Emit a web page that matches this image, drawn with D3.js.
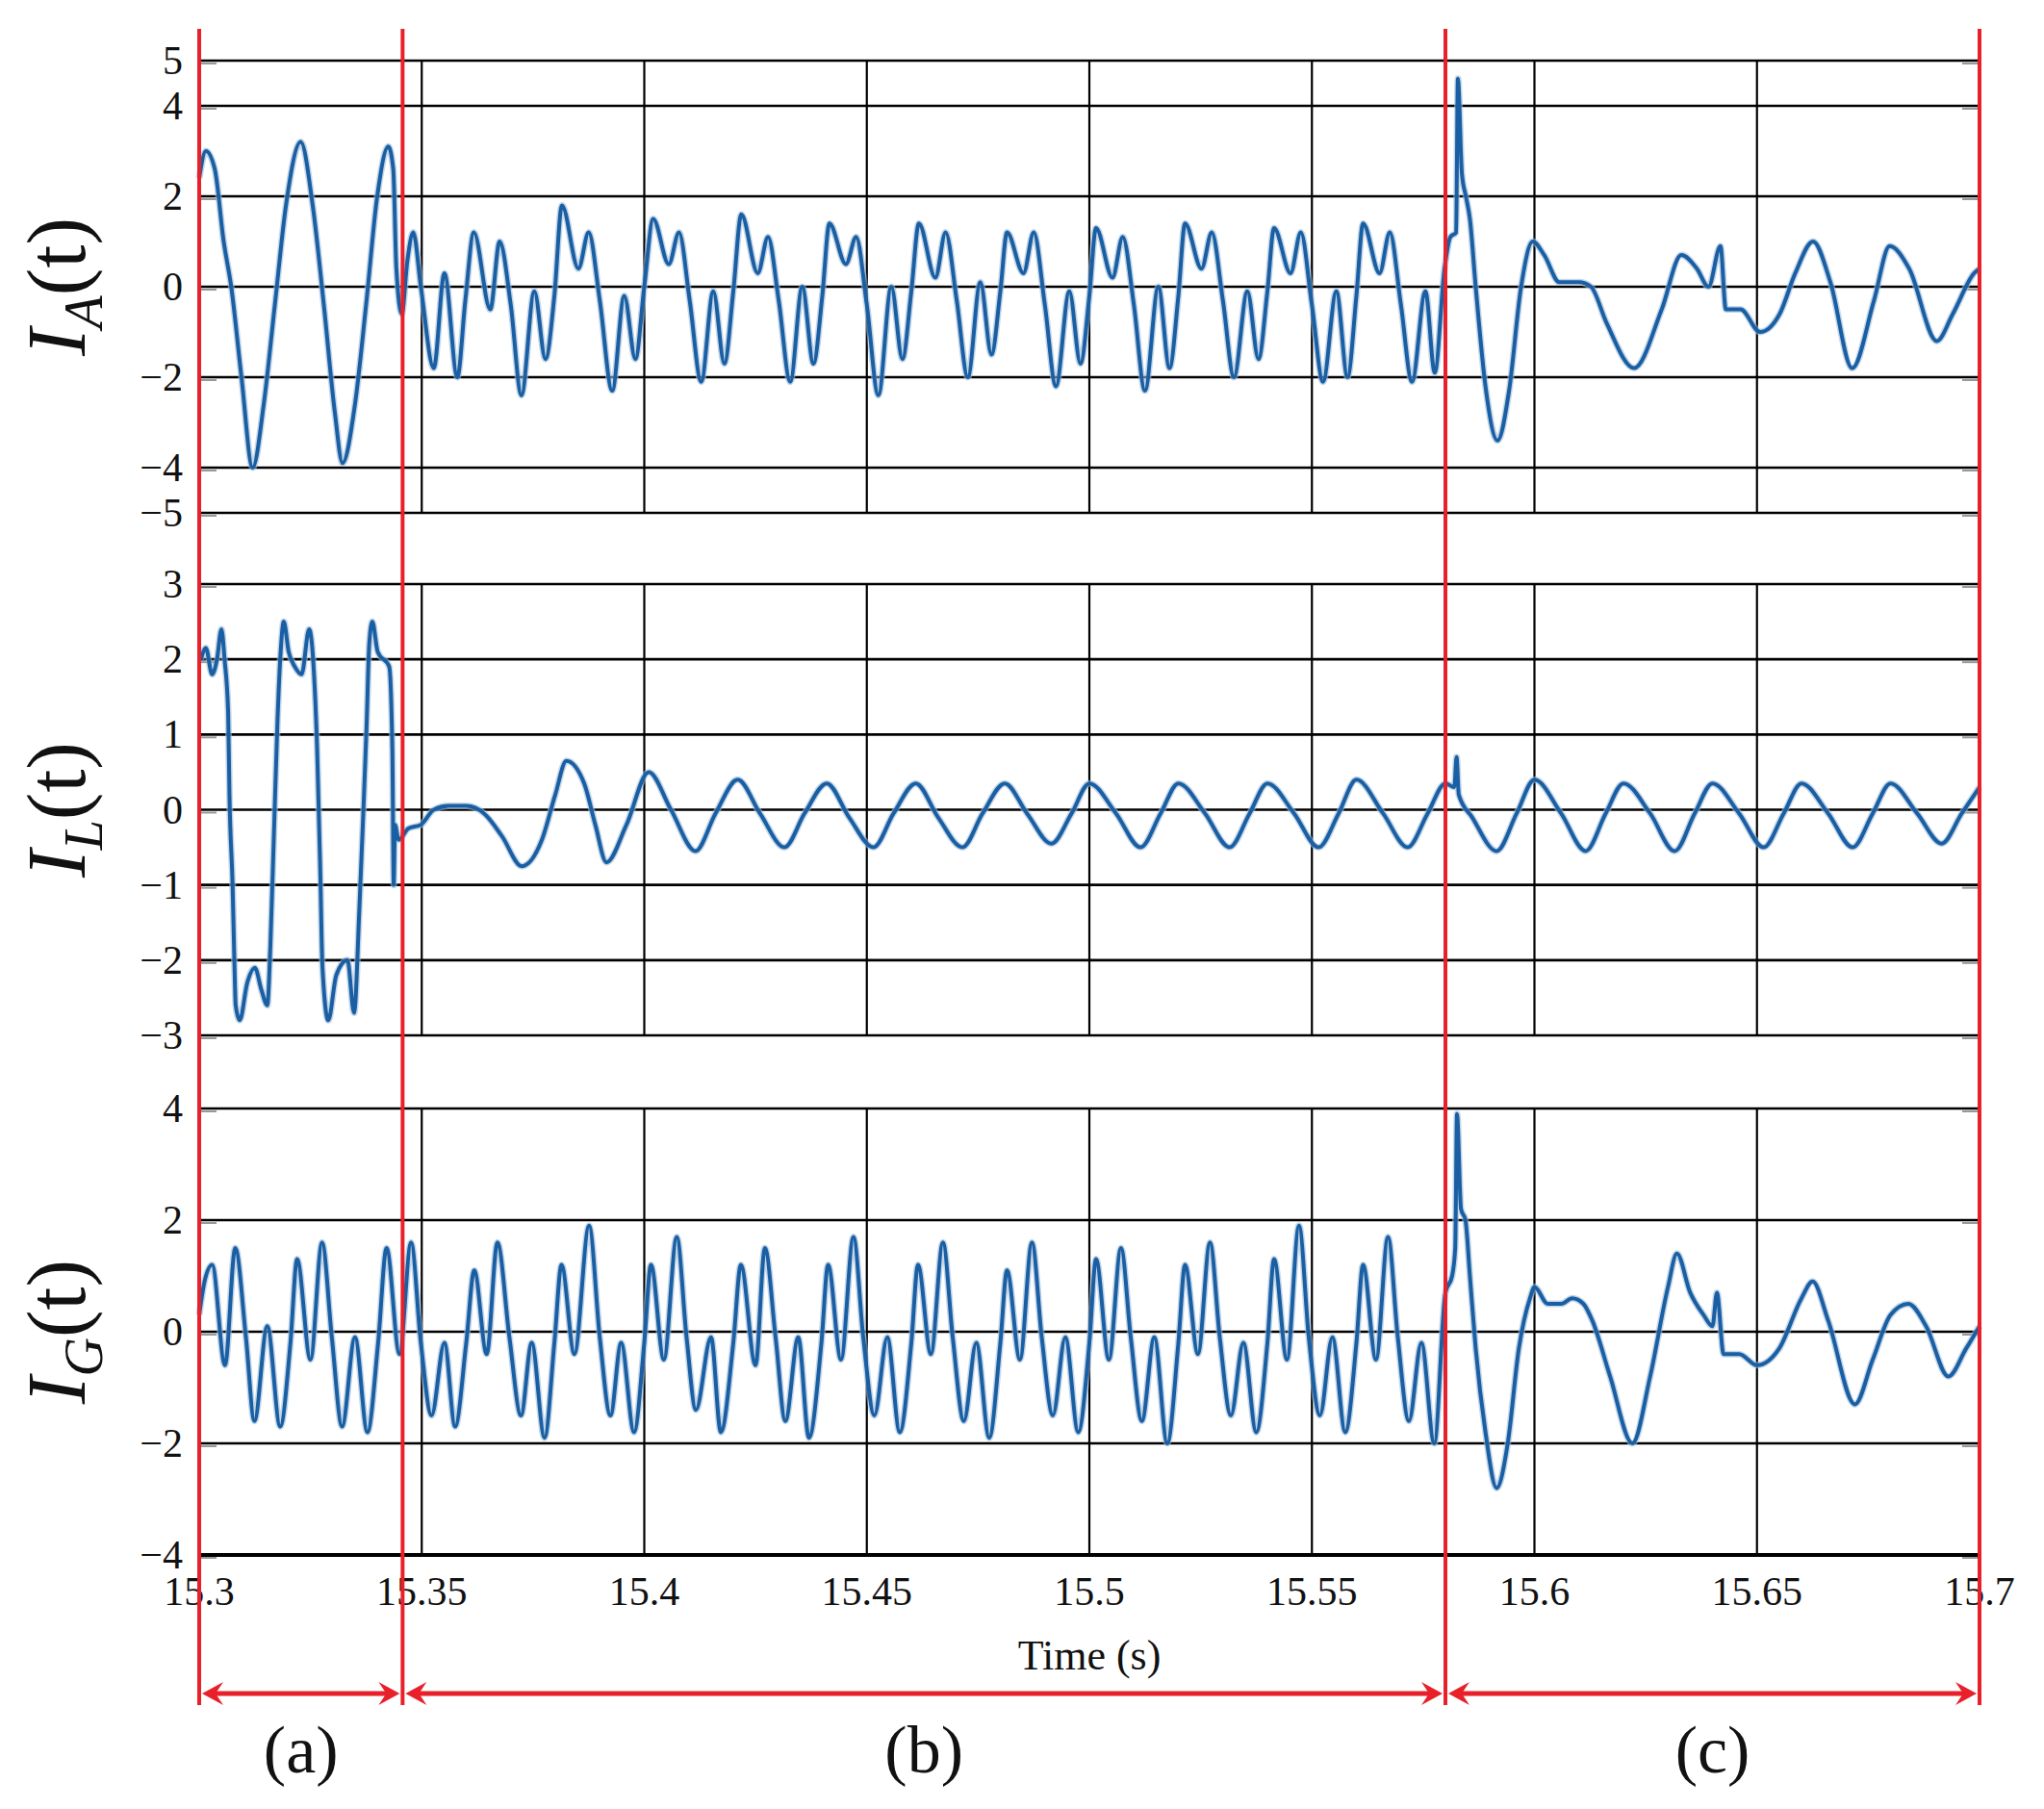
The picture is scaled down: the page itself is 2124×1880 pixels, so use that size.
<!DOCTYPE html>
<html><head><meta charset="utf-8">
<script src="https://cdn.jsdelivr.net/npm/d3@7"></script>
<style>body{margin:0;background:#fff}svg{display:block}text{font-family:"Liberation Serif","DejaVu Serif",serif;fill:#111}</style>
</head><body><svg id="c" width="2124" height="1880"></svg>
<script>
const xTicks=[15.3,15.35,15.4,15.45,15.5,15.55,15.6,15.65,15.7];
const xTickLabels=["15.3","15.35","15.4","15.45","15.5","15.55","15.6","15.65","15.7"];
const ticksA=[-5,-4,-2,0,2,4,5];
const ticksL=[-3,-2,-1,0,1,2,3];
const ticksG=[-4,-2,0,2,4];
const regionBounds=[15.3,15.3457,15.58,15.7];
const regionLabels=["(a)","(b)","(c)"];
const seriesNames=["A","L","G"];

const IA=[[15.3000,2.4],[15.3015,3.0],[15.3035,2.6],[15.3055,1.0],[15.3072,0.0],[15.3095,-2.0],[15.3120,-4.0],[15.3145,-2.6],[15.3170,-0.4],[15.3195,1.8],[15.3228,3.2],[15.3255,1.8],[15.3280,-0.4],[15.3305,-2.8],[15.3322,-3.9],[15.3350,-2.6],[15.3375,-0.4],[15.3400,2.0],[15.3425,3.1],[15.3436,2.6],[15.3443,0.4],[15.3455,-0.6],[15.3468,0.6],[15.3481,1.2],[15.3498,0.0],[15.3527,-1.8],[15.3551,0.3],[15.3580,-2.0],[15.3598,-0.3],
[15.3617,1.2],[15.3654,-0.5],[15.3675,1.0],[15.3700,-0.4],[15.3724,-2.4],[15.3753,-0.1],[15.3778,-1.6],[15.3798,-0.2],
[15.3815,1.8],[15.3852,0.4],[15.3875,1.2],[15.3900,-0.3],[15.3928,-2.3],[15.3955,-0.2],[15.3980,-1.6],[15.4000,0.0],
[15.4020,1.5],[15.4055,0.5],[15.4078,1.2],[15.4102,-0.3],[15.4128,-2.1],[15.4155,-0.1],[15.4180,-1.7],[15.4200,-0.1],
[15.4218,1.6],[15.4255,0.3],[15.4278,1.1],[15.4302,-0.3],[15.4328,-2.1],[15.4355,0.0],[15.4380,-1.7],[15.4400,-0.2],
[15.4416,1.4],[15.4453,0.5],[15.4476,1.1],[15.4500,-0.4],[15.4526,-2.4],[15.4555,0.0],[15.4580,-1.6],[15.4600,-0.1],
[15.4617,1.4],[15.4654,0.2],[15.4677,1.2],[15.4702,-0.3],[15.4727,-2.0],[15.4755,0.1],[15.4780,-1.5],[15.4800,-0.1],
[15.4815,1.2],[15.4852,0.3],[15.4875,1.2],[15.4900,-0.4],[15.4925,-2.2],[15.4955,-0.1],[15.4980,-1.7],[15.5000,-0.2],
[15.5015,1.3],[15.5052,0.2],[15.5075,1.1],[15.5100,-0.4],[15.5125,-2.3],[15.5155,0.0],[15.5180,-1.8],[15.5200,-0.2],
[15.5215,1.4],[15.5252,0.4],[15.5275,1.2],[15.5300,-0.3],[15.5325,-2.0],[15.5355,-0.1],[15.5380,-1.6],[15.5400,-0.1],
[15.5415,1.3],[15.5452,0.3],[15.5475,1.2],[15.5500,-0.4],[15.5525,-2.1],[15.5555,-0.1],[15.5580,-2.0],[15.5600,-0.2],
[15.5615,1.4],[15.5652,0.3],[15.5675,1.2],[15.5700,-0.4],[15.5725,-2.1],[15.5755,-0.1],[15.5776,-1.9],[15.5798,0.4],
[15.5811,1.1],[15.5824,1.2],[15.5828,4.6],[15.5837,2.5],[15.5846,2.0],[15.5855,1.5],[15.5868,0.0],[15.5890,-2.2],[15.5917,-3.4],[15.5943,-2.3],[15.5970,0.0],[15.5996,1.0],[15.6022,0.7],[15.6056,0.1],[15.6100,0.1],[15.6127,0.0],[15.6162,-0.8],[15.6224,-1.8],[15.6286,-0.5],[15.6330,0.7],[15.6365,0.4],[15.6391,0.0],[15.6418,0.9],[15.6430,-0.5],[15.6463,-0.5],[15.6507,-1.0],[15.6551,-0.6],[15.6586,0.3],[15.6626,1.0],[15.6665,0.1],[15.6714,-1.8],[15.6763,-0.3],[15.6798,0.9],[15.6842,0.4],[15.6904,-1.2],[15.6940,-0.6],[15.6988,0.3],[15.7000,0.4]];

const IL=[[15.3004,2.0],[15.3015,2.15],[15.3029,1.8],[15.3040,2.0],[15.3050,2.4],[15.3057,2.0],[15.3065,1.3],[15.3068,0.2],[15.3075,-1.0],[15.3079,-2.0],[15.3082,-2.6],[15.3091,-2.8],[15.3108,-2.3],[15.3125,-2.1],[15.3140,-2.4],[15.3153,-2.6],[15.3160,-1.8],[15.3168,-0.3],[15.3176,1.2],[15.3183,2.1],[15.3190,2.5],[15.3201,2.1],[15.3215,1.9],[15.3230,1.8],[15.3247,2.4],[15.3258,1.8],[15.3265,0.8],[15.3272,-0.8],[15.3277,-2.1],[15.3290,-2.8],[15.3308,-2.2],[15.3333,-2.0],[15.3348,-2.7],[15.3360,-1.3],[15.3369,0.0],[15.3376,1.1],[15.3382,2.2],[15.3389,2.5],[15.3401,2.1],[15.3427,1.9],[15.3434,0.8],[15.3437,-1.0],[15.3440,-0.2],[15.3448,-0.4],
[15.3470,-0.25],[15.3498,-0.2],[15.3527,0.0],[15.3560,0.05],[15.3600,0.05],[15.3640,-0.05],[15.3680,-0.35],[15.3725,-0.75],[15.3770,-0.4],[15.3800,0.2],[15.3825,0.65],[15.3865,0.35],[15.3890,-0.2],[15.3915,-0.7],[15.3960,-0.2],[15.4010,0.5],[15.4060,0.0],[15.4115,-0.55],[15.4160,-0.05],[15.4210,0.4],[15.4260,-0.05],[15.4315,-0.5],[15.4360,-0.05],[15.4410,0.35],[15.4460,-0.1],[15.4515,-0.5],[15.4560,-0.05],[15.4610,0.35],[15.4660,-0.1],[15.4715,-0.5],[15.4760,-0.05],[15.4810,0.35],[15.4860,-0.05],[15.4915,-0.45],[15.4960,-0.05],[15.5000,0.35],[15.5060,-0.05],[15.5115,-0.5],[15.5160,-0.05],[15.5200,0.35],[15.5260,-0.05],[15.5315,-0.5],[15.5360,-0.05],[15.5400,0.35],[15.5460,-0.05],[15.5515,-0.5],[15.5560,-0.05],[15.5600,0.4],[15.5660,-0.05],[15.5715,-0.5],[15.5760,-0.05],[15.5800,0.35],[15.5820,0.3],[15.5825,0.7],[15.5830,0.2],[15.5860,-0.1],[15.5915,-0.55],[15.5960,-0.05],[15.6000,0.4],[15.6060,-0.05],[15.6115,-0.55],[15.6160,-0.05],[15.6200,0.35],[15.6260,-0.05],[15.6315,-0.55],[15.6360,-0.05],[15.6400,0.35],[15.6460,-0.05],[15.6515,-0.5],[15.6560,-0.05],[15.6600,0.35],[15.6660,-0.05],[15.6715,-0.5],[15.6760,-0.05],[15.6800,0.35],[15.6860,-0.05],[15.6915,-0.45],[15.6960,-0.05],[15.7000,0.3]];

const IG=[[15.3000,0.3],[15.3012,0.9],
[15.3029,1.2],[15.3058,-0.6],[15.3081,1.5],[15.3105,-0.1],[15.3124,-1.6],[15.3153,0.1],[15.3182,-1.7],[15.3205,-0.2],
[15.3220,1.3],[15.3250,-0.5],[15.3276,1.6],[15.3298,-0.1],[15.3321,-1.7],[15.3350,-0.1],[15.3378,-1.8],[15.3402,-0.2],
[15.3421,1.5],[15.3450,-0.4],[15.3476,1.6],[15.3498,-0.2],[15.3522,-1.5],[15.3551,-0.2],[15.3575,-1.7],[15.3600,-0.2],
[15.3618,1.1],[15.3646,-0.4],[15.3670,1.6],[15.3697,-0.1],[15.3723,-1.5],[15.3747,-0.2],[15.3776,-1.9],[15.3798,-0.2],
[15.3814,1.2],[15.3843,-0.4],[15.3876,1.9],[15.3900,-0.1],[15.3924,-1.5],[15.3948,-0.2],[15.3977,-1.8],[15.4000,-0.2],
[15.4015,1.2],[15.4044,-0.5],[15.4073,1.7],[15.4095,-0.1],[15.4116,-1.4],[15.4150,-0.1],[15.4172,-1.8],[15.4200,-0.2],
[15.4217,1.2],[15.4250,-0.6],[15.4271,1.5],[15.4295,-0.1],[15.4317,-1.6],[15.4346,-0.1],[15.4370,-1.9],[15.4398,-0.2],
[15.4413,1.2],[15.4442,-0.5],[15.4470,1.7],[15.4492,-0.1],[15.4517,-1.5],[15.4546,-0.1],[15.4574,-1.8],[15.4600,-0.2],
[15.4615,1.2],[15.4644,-0.4],[15.4671,1.6],[15.4693,-0.1],[15.4718,-1.6],[15.4746,-0.2],[15.4775,-1.9],[15.4800,-0.2],
[15.4815,1.1],[15.4844,-0.5],[15.4871,1.6],[15.4893,-0.1],[15.4918,-1.5],[15.4946,-0.1],[15.4975,-1.8],[15.5000,-0.2],
[15.5015,1.3],[15.5044,-0.5],[15.5071,1.5],[15.5093,-0.1],[15.5118,-1.6],[15.5146,-0.1],[15.5175,-2.0],[15.5200,-0.2],
[15.5215,1.2],[15.5244,-0.4],[15.5271,1.6],[15.5293,-0.1],[15.5318,-1.5],[15.5346,-0.2],[15.5375,-1.8],[15.5400,-0.2],
[15.5415,1.3],[15.5444,-0.5],[15.5471,1.9],[15.5493,-0.1],[15.5518,-1.5],[15.5546,-0.1],[15.5575,-1.8],[15.5600,-0.2],
[15.5615,1.2],[15.5644,-0.5],[15.5671,1.7],[15.5693,-0.1],[15.5718,-1.6],[15.5746,-0.2],[15.5775,-2.0],[15.5800,0.7],
[15.5815,1.0],[15.5822,1.5],[15.5826,3.9],[15.5835,2.2],[15.5845,2.0],[15.5855,1.0],[15.5868,-0.3],[15.5890,-1.8],[15.5915,-2.8],[15.5940,-2.0],[15.5965,-0.3],[15.5990,0.6],[15.6000,0.8],[15.6030,0.5],[15.6060,0.5],[15.6085,0.6],[15.6110,0.5],[15.6130,0.2],[15.6170,-0.8],[15.6220,-2.0],[15.6260,-0.8],[15.6300,0.8],[15.6320,1.4],[15.6350,0.7],[15.6380,0.3],[15.6400,0.1],[15.6410,0.7],[15.6425,-0.4],[15.6460,-0.4],[15.6500,-0.6],[15.6550,-0.3],[15.6600,0.6],[15.6625,0.9],[15.6660,0.2],[15.6720,-1.3],[15.6760,-0.5],[15.6800,0.3],[15.6840,0.5],[15.6880,0.1],[15.6930,-0.8],[15.6970,-0.3],[15.7000,0.1]];

const svg=d3.select("#c");
const x=d3.scaleLinear().domain([15.3,15.7]).range([207,2057]);
const panels=[
 {data:IA,dom:[-5,5],ticks:ticksA,top:63,bot:533,name:seriesNames[0]},
 {data:IL,dom:[-3,3],ticks:ticksL,top:607,bot:1076,name:seriesNames[1]},
 {data:IG,dom:[-4,4],ticks:ticksG,top:1152,bot:1616,name:seriesNames[2]}];
const blue="#1a5fa3";
panels.forEach((p,i)=>{
  const y=d3.scaleLinear().domain(p.dom).range([p.bot,p.top]);
  const g=svg.append("g");
  g.selectAll(".h").data(p.ticks).join("line").attr("x1",x(15.3)).attr("x2",x(15.7))
   .attr("y1",d=>y(d)).attr("y2",d=>y(d)).attr("stroke","#000").attr("stroke-width",2.6);
  g.selectAll(".v").data(xTicks).join("line").attr("x1",d=>x(d)).attr("x2",d=>x(d))
   .attr("y1",p.top).attr("y2",p.bot).attr("stroke","#000").attr("stroke-width",2.2);
  g.selectAll(".tl").data(p.ticks).join("line").attr("x1",x(15.3)).attr("x2",x(15.3)+18)
   .attr("y1",d=>y(d)+3).attr("y2",d=>y(d)+3).attr("stroke","#999").attr("stroke-width",2);
  g.selectAll(".tr").data(p.ticks).join("line").attr("x1",x(15.7)-18).attr("x2",x(15.7))
   .attr("y1",d=>y(d)+3).attr("y2",d=>y(d)+3).attr("stroke","#999").attr("stroke-width",2);
  g.selectAll(".lab").data(p.ticks).join("text").attr("x",190).attr("y",d=>y(d))
   .attr("text-anchor","end").attr("dominant-baseline","central").attr("font-size",42)
   .text(d=>d<0?"\u2212"+(-d):String(d));
  const line=d3.line().x(d=>x(d[0])).y(d=>y(d[1])).curve(d3.curveMonotoneX);
  g.append("path").datum(p.data).attr("d",line).attr("fill","none").attr("stroke","#9dbbd8")
   .attr("stroke-width",7).attr("stroke-linejoin","round").attr("opacity",0.6);
  g.append("path").datum(p.data).attr("d",line).attr("fill","none").attr("stroke",blue)
   .attr("stroke-width",4).attr("stroke-linejoin","round");
  const cy=(p.top+p.bot)/2;
  const t=svg.append("text").attr("transform",`translate(88,${cy}) rotate(-90)`)
   .attr("text-anchor","middle").attr("font-size",86);
  t.append("tspan").attr("font-style","italic").text("I");
  t.append("tspan").attr("font-style","italic").attr("font-size",56).attr("dy",18).text(p.name);
  t.append("tspan").attr("dy",-18).text("(t)");
});
svg.append("line").attr("x1",x(15.3)).attr("x2",x(15.7)).attr("y1",1616).attr("y2",1616).attr("stroke","#000").attr("stroke-width",4);
svg.selectAll(".xl").data(xTicks).join("text").attr("x",d=>x(d)).attr("y",1654)
 .attr("text-anchor","middle").attr("dominant-baseline","central").attr("font-size",42)
 .text((d,i)=>xTickLabels[i]);
svg.append("text").attr("x",(x(15.3)+x(15.7))/2).attr("y",1720).attr("text-anchor","middle")
 .attr("dominant-baseline","central").attr("font-size",44).text("Time (s)");
const red="#e8202a";
svg.selectAll(".rl").data(regionBounds).join("line").attr("x1",d=>x(d)).attr("x2",d=>x(d))
 .attr("y1",30).attr("y2",1772).attr("stroke",red).attr("stroke-width",4);
const ay=1760;
regionBounds.slice(0,-1).forEach((b,i)=>{
  const x1=x(b)+3,x2=x(regionBounds[i+1])-3;
  svg.append("line").attr("x1",x1+10).attr("x2",x2-10).attr("y1",ay).attr("y2",ay).attr("stroke",red).attr("stroke-width",5);
  svg.append("path").attr("d",`M${x1},${ay} L${x1+22},${ay-12} L${x1+14},${ay} L${x1+22},${ay+12}Z`).attr("fill",red);
  svg.append("path").attr("d",`M${x2},${ay} L${x2-22},${ay-12} L${x2-14},${ay} L${x2-22},${ay+12}Z`).attr("fill",red);
  svg.append("text").attr("x",(x(b)+x(regionBounds[i+1]))/2).attr("y",1818).attr("text-anchor","middle")
   .attr("dominant-baseline","central").attr("font-size",70).text(regionLabels[i]);
});
</script></body></html>
